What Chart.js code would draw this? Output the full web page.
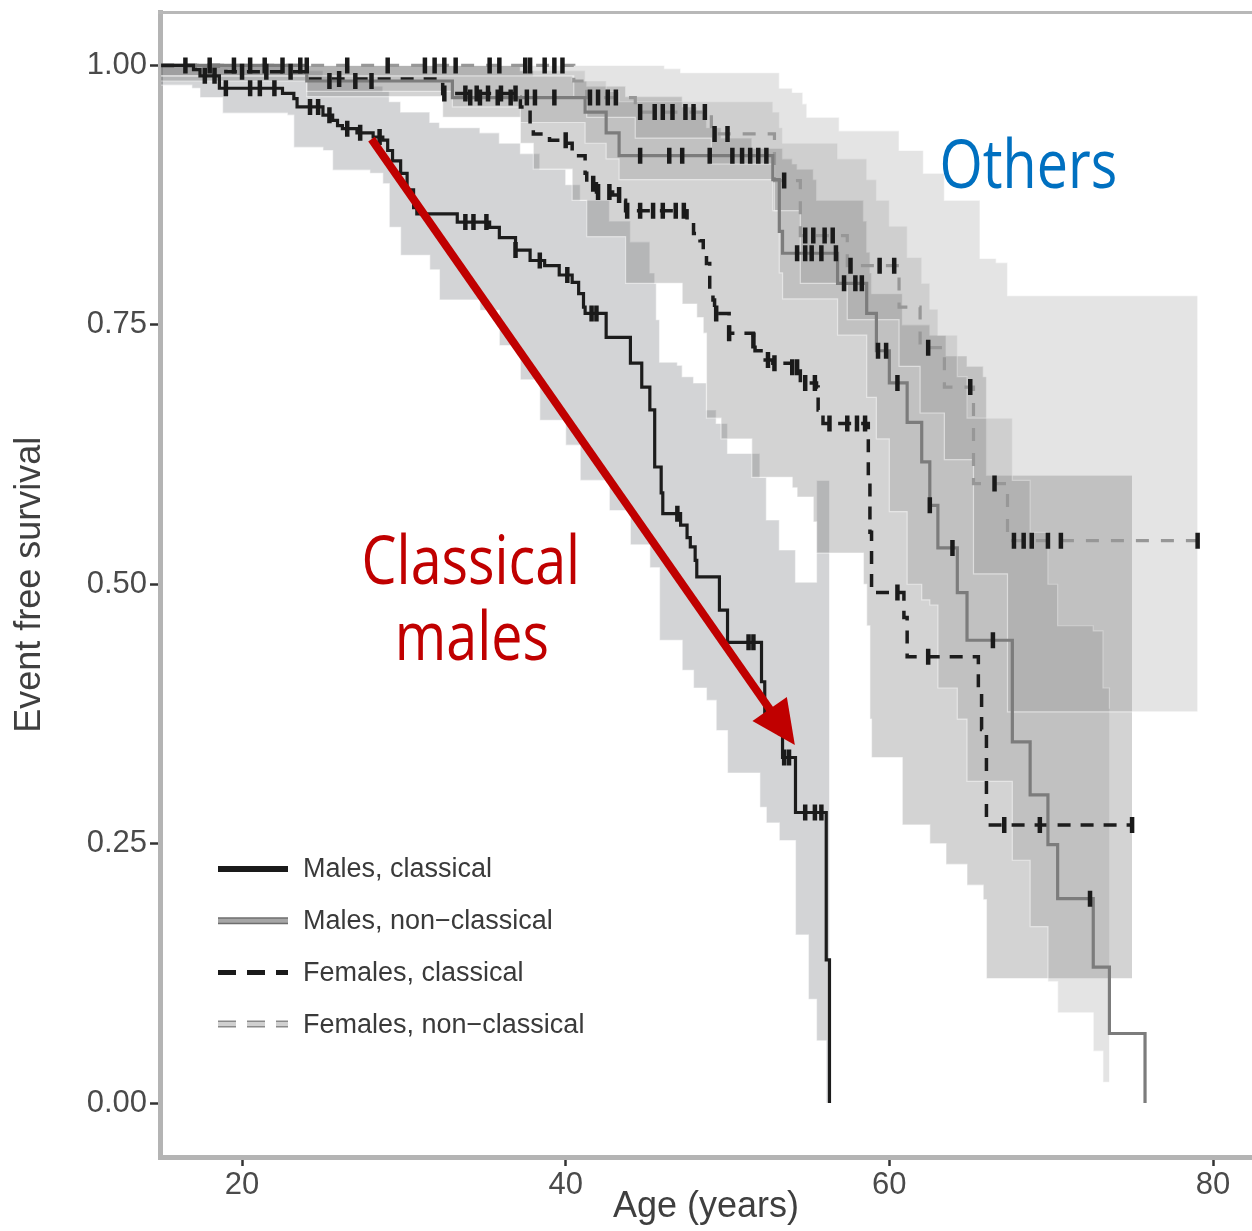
<!DOCTYPE html>
<html>
<head>
<meta charset="utf-8">
<script src="https://cdn.jsdelivr.net/npm/chart.js@4.4.1/dist/chart.umd.min.js"></script>
<style>
  html, body { margin: 0; padding: 0; background: #fff; overflow: hidden; }
  #wrap { width: 1252px; height: 1231px; }
  canvas { display: block; }
</style>
</head>
<body>
<div id="wrap"><canvas id="kmChart" width="1252" height="1231"></canvas></div>
<script>
// axis ticks
var ageTicks = [20, 40, 60, 80];
var survTicks = [0, 0.25, 0.5, 0.75, 1];

var seriesNames = ['Males, classical', 'Males, non\u2212classical', 'Females, classical', 'Females, non\u2212classical'];

// Kaplan-Meier steps: time of event, survival after it
var mcT = [15, 17.0, 17.4, 18.6, 22.5, 23.2, 23.4, 25.0, 25.6, 25.9, 26.2, 27.1, 28.1, 28.7, 29.0, 29.3, 29.8, 30.2, 30.6, 30.8, 33.3, 35.3, 35.9, 36.9, 37.8, 38.7, 39.6, 40.4, 40.8, 41.1, 41.2, 42.5, 44.0, 44.7, 45.2, 45.5, 45.9, 46.0, 47.1, 47.5, 47.7, 48.0, 48.1, 49.5, 50.0, 52.1, 52.3, 53.2, 53.4, 54.2, 56.1, 56.3];
var mcS = [1, 0.996, 0.99, 0.978, 0.973, 0.968, 0.96, 0.952, 0.947, 0.942, 0.939, 0.935, 0.931, 0.928, 0.918, 0.908, 0.896, 0.88, 0.863, 0.857, 0.849, 0.844, 0.834, 0.822, 0.812, 0.807, 0.798, 0.791, 0.78, 0.767, 0.761, 0.738, 0.713, 0.69, 0.668, 0.613, 0.588, 0.568, 0.557, 0.545, 0.536, 0.523, 0.507, 0.475, 0.444, 0.406, 0.376, 0.356, 0.333, 0.28, 0.138, 0];

var mncT = [15, 24.0, 33.0, 41.2, 42.5, 43.3, 52.8, 53.2, 53.4, 56.8, 58.6, 59.2, 60.0, 61.1, 62.0, 62.5, 63.0, 64.2, 64.8, 67.6, 68.7, 69.8, 70.4, 72.6, 73.6, 75.8];
var mncS = [1, 0.985, 0.969, 0.955, 0.935, 0.913, 0.89, 0.84, 0.819, 0.79, 0.761, 0.725, 0.694, 0.656, 0.618, 0.576, 0.535, 0.492, 0.446, 0.348, 0.297, 0.249, 0.197, 0.131, 0.067, 0];

var fcT = [15, 19.0, 24.0, 32.4, 37.0, 37.2, 37.8, 38.0, 39.0, 40.1, 40.4, 41.2, 41.3, 41.9, 42.9, 43.5, 43.7, 47.5, 47.9, 48.3, 48.5, 48.7, 48.9, 49.1, 49.2, 50.1, 51.6, 51.7, 52.2, 52.8, 54.0, 54.5, 55.5, 55.6, 55.9, 58.7, 58.8, 58.9, 60.9, 61.1, 65.5, 65.7, 66.0, 75.0];
var fcS = [1, 0.994, 0.987, 0.973, 0.969, 0.96, 0.94, 0.934, 0.928, 0.925, 0.913, 0.896, 0.886, 0.878, 0.875, 0.87, 0.86, 0.851, 0.838, 0.831, 0.819, 0.809, 0.783, 0.774, 0.761, 0.742, 0.735, 0.725, 0.716, 0.713, 0.709, 0.694, 0.69, 0.668, 0.655, 0.60, 0.55, 0.492, 0.468, 0.43, 0.40, 0.36, 0.268, 0.268];

var fncT = [15, 40.5, 41.3, 44.3, 49.0, 52.9, 54.5, 57.4, 60.6, 61.9, 63.4, 65.2, 67.3, 79.05];
var fncS = [1, 0.985, 0.969, 0.955, 0.934, 0.889, 0.836, 0.807, 0.767, 0.728, 0.69, 0.597, 0.542, 0.542];

// censoring times
var mcCens = [17.7, 18.3, 19.0, 20.5, 21.1, 22.0, 24.2, 24.7, 25.4, 26.5, 27.3, 28.5, 33.8, 34.3, 35.1, 36.9, 38.4, 40.1, 41.6, 41.9, 46.9, 51.3, 51.6, 53.5, 53.8, 54.8, 55.4, 55.8];
var mncCens = [20.5, 21.4, 23.6, 25.4, 27.0, 28.0, 34.1, 34.7, 35.8, 36.6, 37.6, 38.1, 39.3, 44.6, 46.4, 47.2, 48.9, 50.3, 50.9, 51.4, 51.9, 52.4, 54.3, 54.8, 55.2, 55.8, 56.7, 57.2, 57.9, 58.3, 59.3, 59.8, 60.5, 62.5, 63.9, 66.4, 72.4];
var fcCens = [20.0, 21.5, 23.0, 26.0, 32.5, 33.8, 34.5, 35.2, 36.0, 36.9, 40.0, 41.7, 42.0, 42.7, 43.3, 43.8, 44.6, 45.4, 46.0, 46.8, 47.3, 49.3, 50.1, 51.6, 52.5, 52.9, 54.0, 54.3, 54.8, 55.4, 56.3, 57.4, 58.0, 58.5, 60.5, 62.4, 67.1, 69.3, 75.0];
var fncCens = [16.5, 18.0, 19.5, 22.5, 24.0, 26.5, 29.0, 31.3, 31.9, 32.5, 33.2, 35.3, 35.9, 37.5, 37.8, 38.7, 39.3, 39.8, 41.5, 42.0, 42.6, 43.1, 44.6, 45.5, 46.0, 46.6, 47.4, 47.9, 48.6, 49.2, 50.0, 53.5, 54.8, 55.3, 56.0, 56.5, 57.6, 59.4, 60.3, 62.4, 65.0, 66.5, 67.7, 68.3, 68.8, 69.8, 70.6, 79.05];

// 95% confidence bands (step times, lower, upper)
var mcBandT = [15, 16.9, 17.4, 18.8, 22.8, 23.2, 25.0, 25.6, 27.9, 28.7, 29.1, 29.8, 31.6, 32.2, 34.7, 35.9, 37.2, 38.4, 40.0, 40.9, 42.7, 44.0, 45.2, 45.5, 45.6, 45.8, 46.9, 47.2, 47.9, 48.7, 49.3, 50.0, 52.0, 52.4, 53.2, 54.2, 55.0, 55.5, 56.1, 56.3];
var mcBandLo = [0.981, 0.978, 0.969, 0.954, 0.952, 0.921, 0.918, 0.899, 0.896, 0.886, 0.844, 0.817, 0.803, 0.774, 0.764, 0.730, 0.697, 0.658, 0.634, 0.600, 0.571, 0.538, 0.516, 0.516, 0.516, 0.446, 0.446, 0.417, 0.400, 0.388, 0.359, 0.318, 0.285, 0.270, 0.253, 0.162, 0.100, 0.060, 0, 0];
var mcBandHi = [1, 1, 1, 1, 1, 0.995, 0.990, 0.985, 0.980, 0.975, 0.965, 0.955, 0.945, 0.940, 0.935, 0.925, 0.915, 0.900, 0.885, 0.870, 0.850, 0.830, 0.800, 0.790, 0.755, 0.714, 0.711, 0.700, 0.694, 0.668, 0.655, 0.626, 0.603, 0.562, 0.533, 0.502, 0.502, 0.600, 0.600, 0.600];

var mncBandT = [15, 24.0, 33.0, 37.2, 41.2, 42.5, 43.3, 52.8, 53.2, 53.4, 56.8, 58.6, 59.2, 60.0, 61.1, 62.0, 62.5, 63.0, 64.2, 64.8, 67.6, 68.7, 69.8, 70.4, 72.6, 73.2, 73.6];
var mncBandLo = [0.990, 0.975, 0.960, 0.945, 0.925, 0.910, 0.890, 0.860, 0.800, 0.775, 0.740, 0.680, 0.640, 0.570, 0.500, 0.485, 0.480, 0.400, 0.370, 0.310, 0.234, 0.170, 0.117, 0.087, 0.050, 0.020, 0.010];
var mncBandHi = [1, 1, 1, 0.995, 0.985, 0.975, 0.965, 0.955, 0.940, 0.925, 0.910, 0.890, 0.870, 0.845, 0.815, 0.790, 0.765, 0.740, 0.700, 0.660, 0.600, 0.550, 0.500, 0.460, 0.455, 0.400, 0.380];

var fcBandT = [15, 24.0, 32.4, 37.2, 38.0, 40.4, 41.3, 43.7, 47.2, 48.1, 48.5, 48.7, 49.6, 51.5, 53.4, 54.0, 54.3, 55.3, 55.5, 58.4, 58.6, 58.8, 58.9, 60.8, 62.5, 63.5, 64.8, 65.8, 66.0, 75.0];
var fcBandLo = [0.985, 0.970, 0.950, 0.925, 0.900, 0.870, 0.835, 0.790, 0.770, 0.757, 0.742, 0.660, 0.640, 0.603, 0.603, 0.593, 0.584, 0.560, 0.530, 0.500, 0.460, 0.370, 0.333, 0.268, 0.250, 0.230, 0.210, 0.196, 0.120, 0.120];
var fcBandHi = [1, 1, 1, 0.995, 0.990, 0.985, 0.980, 0.970, 0.960, 0.955, 0.950, 0.940, 0.930, 0.920, 0.910, 0.905, 0.900, 0.890, 0.870, 0.850, 0.820, 0.800, 0.780, 0.750, 0.740, 0.720, 0.710, 0.700, 0.605, 0.605];

var fncBandT = [15, 40.5, 41.3, 44.3, 46.1, 47.1, 49.0, 52.9, 53.2, 54.0, 54.5, 54.65, 54.9, 56.9, 57.4, 60.6, 61.9, 62.1, 63.4, 65.2, 65.6, 66.6, 67.3, 79.05];
var fncBandLo = [0.990, 0.970, 0.950, 0.930, 0.930, 0.930, 0.905, 0.860, 0.860, 0.860, 0.790, 0.790, 0.790, 0.790, 0.755, 0.710, 0.665, 0.665, 0.620, 0.510, 0.510, 0.510, 0.377, 0.377];
var fncBandHi = [1, 1, 1, 1, 0.997, 0.993, 0.993, 0.993, 0.978, 0.974, 0.974, 0.963, 0.950, 0.937, 0.937, 0.918, 0.918, 0.896, 0.870, 0.870, 0.814, 0.810, 0.778, 0.778];

// annotation anchors (age, survival)
var arrowFrom = [28.0, 0.929];
var arrowTo = [54.16, 0.345];

var FONT = 'Liberation Sans, Arial, Helvetica, sans-serif';

function pts(t, v) {
  return t.map(function (x, i) { return { x: x, y: v[i] }; });
}
function stepValue(t, v, x) {
  var out = v[0];
  for (var i = 0; i < t.length; i++) { if (t[i] <= x) out = v[i]; }
  return out;
}

var curves = [
  { t: mcT, s: mcS, c: mcCens, color: '#1c1c1c', width: 3.2, dash: [] },
  { t: mncT, s: mncS, c: mncCens, color: '#7c7c7c', width: 3.2, dash: [] },
  { t: fcT, s: fcS, c: fcCens, color: '#1c1c1c', width: 3.5, dash: [13, 10] },
  { t: fncT, s: fncS, c: fncCens, color: '#979797', width: 3.2, dash: [13, 12] }
];
var bands = [
  { t: fncBandT, lo: fncBandLo, hi: fncBandHi, fill: 'rgba(120,120,120,0.20)' },
  { t: mncBandT, lo: mncBandLo, hi: mncBandHi, fill: 'rgba(120,120,120,0.20)' },
  { t: fcBandT, lo: fcBandLo, hi: fcBandHi, fill: 'rgba(120,120,120,0.33)' },
  { t: mcBandT, lo: mcBandLo, hi: mcBandHi, fill: 'rgba(118,120,128,0.32)' }
];

var datasets = [];
bands.forEach(function (b) {
  datasets.push({
    data: pts(b.t, b.lo), stepped: 'before', borderColor: 'rgba(255,255,255,0.5)', borderWidth: 1.2,
    pointRadius: 0, fill: false, order: 3
  });
  datasets.push({
    data: pts(b.t, b.hi), stepped: 'before', borderColor: 'rgba(255,255,255,0.5)', borderWidth: 1.2,
    pointRadius: 0, fill: '-1', backgroundColor: b.fill, order: 3
  });
});
curves.forEach(function (c, i) {
  datasets.push({
    label: seriesNames[i], data: pts(c.t, c.s), stepped: 'before', borderColor: c.color,
    borderWidth: c.width, borderDash: c.dash, pointRadius: 0, fill: false, order: 1
  });
});
curves.forEach(function (c) {
  datasets.push({
    data: c.c.map(function (t) { return { x: t, y: stepValue(c.t, c.s, t) }; }),
    showLine: false, pointStyle: 'line', rotation: 90, pointRadius: 8,
    borderColor: '#1a1a1a', borderWidth: 4.5, order: 0
  });
});

var legendStyles = [
  { color: '#1a1a1a', width: 6, dash: [] },
  { color: '#a6a6a6', width: 4, dash: [], outline: '#6e6e6e' },
  { color: '#1a1a1a', width: 5, dash: [18, 11] },
  { color: '#d0d0d0', width: 4, dash: [18, 11], outline: '#8a8a8a' }
];

// let the panel run to the right edge of the canvas, like the original
var fullWidth = {
  id: 'fullWidth',
  afterLayout: function (chart) {
    var a = chart.chartArea, xs = chart.scales.x;
    a.right = chart.width;
    a.width = a.right - a.left;
    xs.right = chart.width;
    xs.width = xs.right - xs.left;
    xs.configure();
  }
};

var panelLegend = {
  id: 'panelLegend',
  afterDatasetsDraw: function (chart) {
    var ctx = chart.ctx, a = chart.chartArea;
    ctx.save();
    // top frame line
    ctx.strokeStyle = '#b8b8b8';
    ctx.lineWidth = 3;
    ctx.beginPath(); ctx.moveTo(a.left - 2, a.top); ctx.lineTo(chart.width, a.top); ctx.stroke();

    ctx.font = '27px ' + FONT;
    ctx.textBaseline = 'middle';
    ctx.textAlign = 'left';
    seriesNames.forEach(function (name, i) {
      var yy = a.bottom - 288 + i * 51.7;
      var st = legendStyles[i];
      var x0 = a.left + 58, x1 = a.left + 128;
      ctx.setLineDash(st.dash);
      ctx.lineCap = 'butt';
      if (st.outline) {
        ctx.strokeStyle = st.outline; ctx.lineWidth = st.width + 3;
        ctx.beginPath(); ctx.moveTo(x0, yy); ctx.lineTo(x1, yy); ctx.stroke();
      }
      ctx.strokeStyle = st.color; ctx.lineWidth = st.width;
      ctx.beginPath(); ctx.moveTo(x0, yy); ctx.lineTo(x1, yy); ctx.stroke();
      ctx.setLineDash([]);
      ctx.fillStyle = '#3a3a3a';
      ctx.fillText(name, a.left + 143, yy + 1);
    });
    ctx.restore();
  }
};

var annotations = {
  id: 'annotations',
  afterDraw: function (chart) {
    var ctx = chart.ctx, xs = chart.scales.x, ys = chart.scales.y;
    var x0 = xs.getPixelForValue(arrowFrom[0]), y0 = ys.getPixelForValue(arrowFrom[1]);
    var x1 = xs.getPixelForValue(arrowTo[0]), y1 = ys.getPixelForValue(arrowTo[1]);
    var ang = Math.atan2(y1 - y0, x1 - x0);
    var headLen = 44, headHalf = 21;
    var bx = x1 - headLen * Math.cos(ang), by = y1 - headLen * Math.sin(ang);
    ctx.save();
    ctx.strokeStyle = '#c00000';
    ctx.fillStyle = '#c00000';
    ctx.lineWidth = 8;
    ctx.beginPath(); ctx.moveTo(x0, y0);
    ctx.lineTo(bx + 3 * Math.cos(ang), by + 3 * Math.sin(ang)); ctx.stroke();
    ctx.beginPath(); ctx.moveTo(x1, y1);
    ctx.lineTo(bx + headHalf * Math.sin(ang), by - headHalf * Math.cos(ang));
    ctx.lineTo(bx - headHalf * Math.sin(ang), by + headHalf * Math.cos(ang));
    ctx.closePath(); ctx.fill();

    var notes = [
      { text: 'Others', x: 63.1, y: 0.8815, align: 'left', color: '#0070c0' },
      { text: 'Classical', x: 34.14, y: 0.500, align: 'center', color: '#c00000' },
      { text: 'males', x: 34.2, y: 0.427, align: 'center', color: '#c00000' }
    ];
    ctx.font = '67px "Open Sans", "Noto Sans", sans-serif';
    ctx.textBaseline = 'alphabetic';
    notes.forEach(function (n) {
      ctx.save();
      ctx.translate(xs.getPixelForValue(n.x), ys.getPixelForValue(n.y));
      ctx.scale(0.83, 1);
      ctx.textAlign = n.align;
      ctx.fillStyle = n.color;
      ctx.fillText(n.text, 0, 0);
      ctx.restore();
    });
    ctx.restore();
  }
};

new Chart(document.getElementById('kmChart'), {
  type: 'line',
  data: { datasets: datasets },
  options: {
    responsive: false,
    animation: false,
    events: [],
    layout: { padding: { top: 12, right: 0, bottom: 0, left: 0 } },
    plugins: { legend: { display: false }, tooltip: { enabled: false } },
    scales: {
      x: {
        type: 'linear', min: 14.93, max: 82.41,
        afterBuildTicks: function (s) { s.ticks = ageTicks.map(function (v) { return { value: v }; }); },
        afterFit: function (s) {
          s.height = 74;
          s.paddingLeft = 0; s.paddingRight = 0; s.paddingTop = 0; s.paddingBottom = 0;
        },
        grid: { drawOnChartArea: false, tickLength: 9, tickWidth: 2.5, tickColor: '#333' },
        border: { display: true, color: '#b4b4b4', width: 5 },
        ticks: { font: { family: FONT, size: 31 }, color: '#4a4a4a', padding: 1, maxRotation: 0 },
        title: { display: true, text: 'Age (years)', font: { family: FONT, size: 36 }, color: '#3f3f3f', padding: { top: 0, bottom: 2 } }
      },
      y: {
        type: 'linear', min: -0.052, max: 1.051,
        afterBuildTicks: function (s) { s.ticks = survTicks.map(function (v) { return { value: v }; }); },
        afterFit: function (s) {
          s.width = 160;
          s.paddingLeft = 0; s.paddingRight = 0; s.paddingTop = 0; s.paddingBottom = 0;
        },
        grid: { drawOnChartArea: false, tickLength: 10, tickWidth: 2.5, tickColor: '#333' },
        border: { display: true, color: '#b4b4b4', width: 5 },
        ticks: { font: { family: FONT, size: 31 }, color: '#4a4a4a', padding: 3,
          callback: function (v) { return Number(v).toFixed(2); } },
        title: { display: true, text: 'Event free survival', font: { family: FONT, size: 36 }, color: '#3f3f3f', padding: { top: 8, bottom: 0 } }
      }
    }
  },
  plugins: [fullWidth, panelLegend, annotations]
});
</script>
</body>
</html>
